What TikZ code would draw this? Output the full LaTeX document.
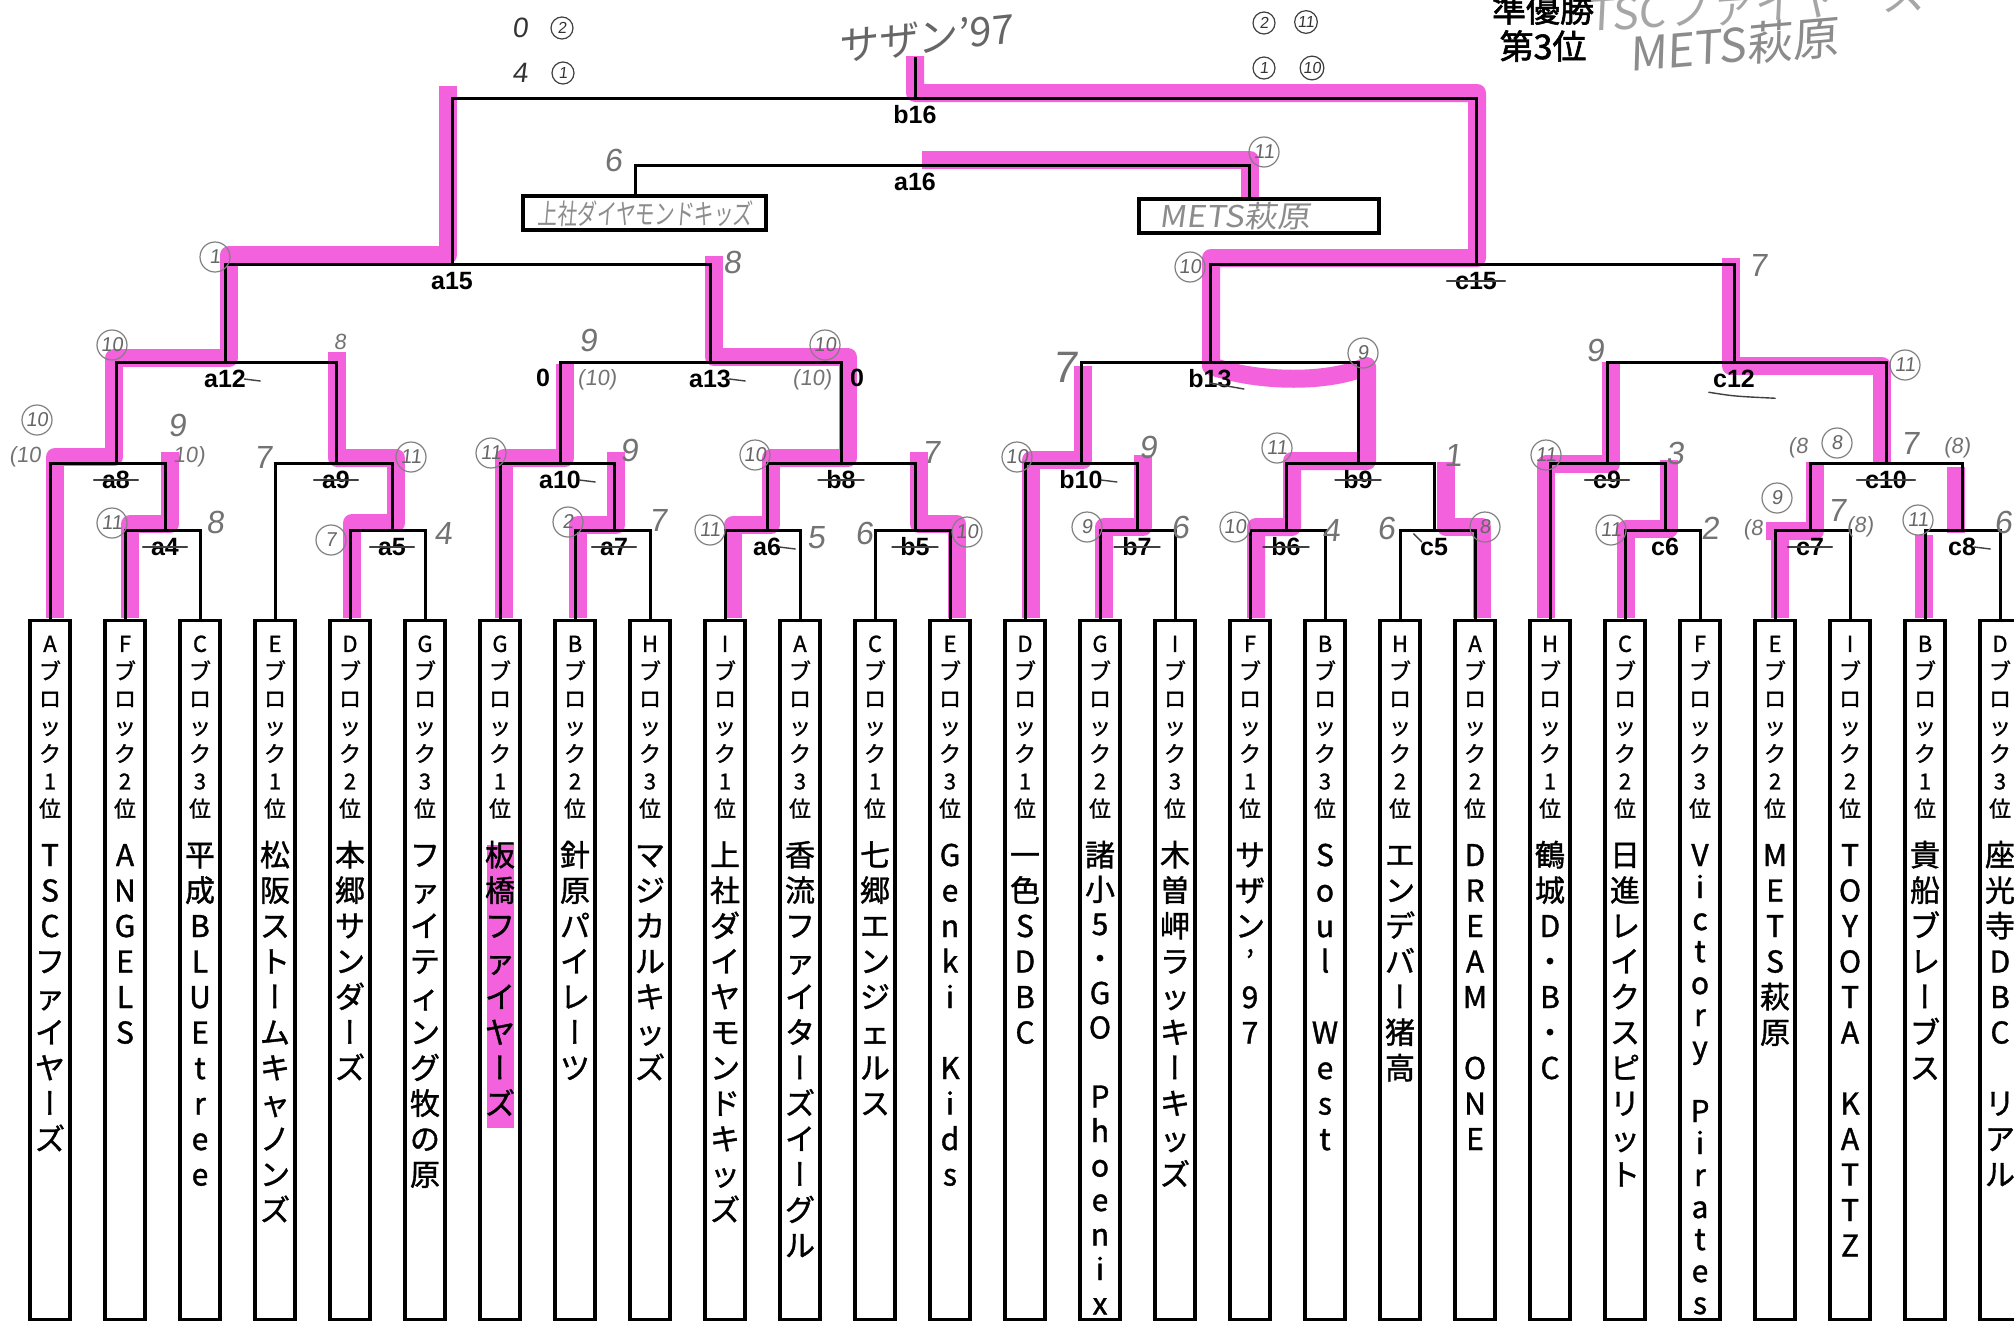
\documentclass[tikz,border=0pt]{standalone}
\usepackage{fontspec}
\usepackage{graphicx}
\setmainfont{Noto Sans CJK JP}
\newfontfamily\jpfont{Noto Sans CJK JP}[FakeBold=1.2]
\newfontfamily\jpbold{Noto Sans CJK JP}[FakeBold=1.8]
\newfontfamily\vertfont{Noto Sans CJK JP}[RawFeature=+vert,FakeBold=1.2]
\newfontfamily\labfont{Liberation Sans}
\newfontfamily\handfont{Liberation Sans}[FakeSlant=0.12]
\newfontfamily\handjp{Noto Sans CJK JP}[FakeSlant=0.12]
\definecolor{hl}{RGB}{243,98,220}

\newcommand\vrows[2]{\vbox{\hsize=20pt\baselineskip=#1\lineskiplimit=-1000pt\lineskip=0pt\hbox{}\vrowsA#2\relax}}
\def\vrowsA#1{\ifx\relax#1\else\vrowB{#1}\expandafter\vrowsA\fi}
\def\vrowB#1{\hbox to\hsize{\hss\ifx ー#1{\vertfont ー}\else#1\fi\hss}}

\newcommand\team[5]{%
  \node[tbox] (t#1) at (#2,619) {};
  \node[blk] (k#1) at (#2,624) {\vrows{13.75pt}{#3}};
  \node[tnm] (n#1) at (#2,{865.6-2*#5}) {\vrows{#5pt}{#4}};}

\tikzset{
  br/.style={line width=1.5pt, line cap=rect},
  pk/.style={draw=hl, line width=9pt, line join=round},
  tbox/.style={draw, line width=1.6pt, minimum width=20pt, minimum height=349.5pt, anchor=north, inner sep=0pt},
  blk/.style={anchor=north, inner sep=0pt, font=\jpfont\fontsize{11}{11}\selectfont},
  tnm/.style={anchor=north, inner sep=0pt, font=\jpfont\fontsize{15}{15}\selectfont},
  sbox/.style={draw, line width=1.8pt, minimum height=17pt, inner sep=0pt},
  lab/.style={font=\labfont\bfseries\fontsize{12.5}{12.5}\selectfont, inner sep=0pt},
  strk/.style={draw=black!75, line width=0.7pt, line cap=round},
  hp/.style={font=\handfont\fontsize{16}{16}\selectfont, text=black!55, inner sep=0pt},
  hs/.style={font=\handfont\fontsize{11}{11}\selectfont, text=black!55, inner sep=0pt},
  hc/.style={circle, draw=black!50, line width=0.6pt, font=\handfont\fontsize{10}{10}\selectfont, text=black!60, inner sep=0.5pt, minimum size=15pt},
  hpd/.style={hp, text=black!80, font=\handfont\fontsize{14}{14}\selectfont},
  hcd/.style={hc, draw=black!75, text=black!80, minimum size=11pt, font=\handfont\fontsize{8}{8}\selectfont},
  jb/.style={font=\jpbold\fontsize{17}{17}\selectfont, inner sep=0pt},
  hj/.style={font=\handjp\fontsize{20}{20}\selectfont, text=black!45, inner sep=0pt},
}

\begin{document}
\begin{tikzpicture}[x=0.5pt,y=-0.5pt]
\fill[white] (0,0) rectangle (2014,1328);
\useasboundingbox (0,0) rectangle (2014,1328);

% ---------- highlighter marks ----------
\draw[pk] (448,86) -- (448,255) -- (229,255) -- (229,358) -- (114,358) -- (114,457) -- (55,457) -- (55,618);
\draw[pk] (170,452) -- (170,524) -- (130,524) -- (130,618);
\draw[pk] (337,352) -- (337,458) -- (396,458) -- (396,523) -- (352,523) -- (352,618);
\draw[pk] (714,256) -- (714,357) -- (848,357) -- (848,458) -- (771,458) -- (771,525) -- (733,525) -- (733,618);
\draw[pk] (565,364) -- (565,458) -- (504,458) -- (504,618);
\draw[pk] (616,452) -- (616,525) -- (578,525) -- (578,618);
\draw[pk] (919,452) -- (919,524) -- (957,524) -- (957,618);
\draw[pk] (915,56) -- (915,93) -- (1477,93) -- (1477,258) -- (1211,258) -- (1211,366)
  .. controls (1260,383) and (1330,383) .. (1367,366) -- (1367,461) -- (1292,461) -- (1292,527) -- (1256,527) -- (1256,618);
\draw[pk] (922,160) -- (1250,160) -- (1250,198);
\draw[pk] (1083,366) -- (1083,460) -- (1031,460) -- (1031,618);
\draw[pk] (1143,455) -- (1143,527) -- (1104,527) -- (1104,618);
\draw[pk] (1446,462) -- (1446,527) -- (1482,527) -- (1482,618);
\draw[pk] (1731,258) -- (1731,366) -- (1882,366) -- (1882,464);
\draw[pk] (1611,362) -- (1611,464) -- (1546,464) -- (1546,618);
\draw[pk] (1669,460) -- (1669,529) -- (1626,529) -- (1626,618);
\draw[pk] (1815,462) -- (1815,531) -- (1766,531);
\draw[pk] (1780,531) -- (1780,618);
\draw[pk] (1956,467) -- (1956,533);
\draw[pk] (1924,535) -- (1924,618);
\fill[hl] (487,845) rectangle (514,1128);

% ---------- teams ----------
\team{0}{50}{Aブロック1位}{TSCファイヤーズ}{17.75}
\team{1}{125}{Fブロック2位}{ANGELS}{17.75}
\team{2}{200}{Cブロック3位}{平成BLUEtree}{17.75}
\team{3}{275}{Eブロック1位}{松阪ストームキャノンズ}{17.75}
\team{4}{350}{Dブロック2位}{本郷サンダーズ}{17.75}
\team{5}{425}{Gブロック3位}{ファイティング牧の原}{17.75}
\team{6}{500}{Gブロック1位}{板橋ファイヤーズ}{17.75}
\team{7}{575}{Bブロック2位}{針原パイレーツ}{17.75}
\team{8}{650}{Hブロック3位}{マジカルキッズ}{17.75}
\team{9}{725}{Iブロック1位}{上社ダイヤモンドキッズ}{17.75}
\team{10}{800}{Aブロック3位}{香流ファイターズイーグル}{17.75}
\team{11}{875}{Cブロック1位}{七郷エンジェルス}{17.75}
\team{12}{950}{Eブロック3位}{Genki~Kids}{17.75}
\team{13}{1025}{Dブロック1位}{一色SDBC}{17.75}
\team{14}{1100}{Gブロック2位}{諸小5・GO~Phoenix}{17.25}
\team{15}{1175}{Iブロック3位}{木曽岬ラッキーキッズ}{17.75}
\team{16}{1250}{Fブロック1位}{サザン’97}{17.75}
\team{17}{1325}{Bブロック3位}{Soul~West}{17.75}
\team{18}{1400}{Hブロック2位}{エンデバー猪高}{17.75}
\team{19}{1475}{Aブロック2位}{DREAM~ONE}{17.75}
\team{20}{1550}{Hブロック1位}{鶴城D・B・C}{17.75}
\team{21}{1625}{Cブロック2位}{日進レイクスピリット}{17.75}
\team{22}{1700}{Fブロック3位}{Victory~Pirates}{16}
\team{23}{1775}{Eブロック2位}{METS萩原}{17.75}
\team{24}{1850}{Iブロック2位}{TOYOTA~KATTZ}{17.75}
\team{25}{1925}{Bブロック1位}{貴船ブレーブス}{17.75}
\team{26}{2000}{Dブロック3位}{座光寺DBC~リアル}{17.75}

% ---------- 3rd place boxes ----------
\node[sbox, minimum width=121.5pt] (s1) at (644.5,213) {};
\node[sbox, minimum width=120pt] (s2) at (1259,216) {};
\node[hj, font=\handjp\fontsize{14}{14}\selectfont] (w4) at (645,214) {\scalebox{0.7}[1]{上社ダイヤモンドキッズ}};
\node[hj, font=\handjp\fontsize{15}{15}\selectfont] (w5) at (1235,216) {\scalebox{1.1}[1]{METS萩原}};

% ---------- match points ----------
\coordinate (m-a4) at (165,530);
\coordinate (m-a8) at (116,463);
\coordinate (m-a5) at (392,530);
\coordinate (m-a9) at (336,463);
\coordinate (m-a12) at (225,362);
\coordinate (m-a7) at (614,530);
\coordinate (m-a10) at (560,463);
\coordinate (m-a6) at (767,530);
\coordinate (m-b5) at (915,530);
\coordinate (m-b8) at (841,463);
\coordinate (m-a13) at (710,362);
\coordinate (m-a15) at (452,264);
\coordinate (m-b7) at (1137,530);
\coordinate (m-b10) at (1081,463);
\coordinate (m-b6) at (1286,530);
\coordinate (m-c5) at (1434,530);
\coordinate (m-b9) at (1358,463);
\coordinate (m-b13) at (1210,362);
\coordinate (m-c6) at (1665,530);
\coordinate (m-c9) at (1607,463);
\coordinate (m-c7) at (1810,530);
\coordinate (m-c8) at (1962,530);
\coordinate (m-c10) at (1886,463);
\coordinate (m-c12) at (1734,362);
\coordinate (m-c15) at (1476,264);
\coordinate (m-b16) at (915,98);
\coordinate (m-a16) at (915,165);
\coordinate (stub) at (915,58);

% ---------- bracket ----------
\draw[br] (t1.north) |- (m-a4) -| (t2.north);
\draw[br] (t0.north) |- (m-a8) -| (m-a4);
\draw[br] (t4.north) |- (m-a5) -| (t5.north);
\draw[br] (t3.north) |- (m-a9) -| (m-a5);
\draw[br] (m-a8) |- (m-a12) -| (m-a9);
\draw[br] (t7.north) |- (m-a7) -| (t8.north);
\draw[br] (t6.north) |- (m-a10) -| (m-a7);
\draw[br] (t9.north) |- (m-a6) -| (t10.north);
\draw[br] (t11.north) |- (m-b5) -| (t12.north);
\draw[br] (m-a6) |- (m-b8) -| (m-b5);
\draw[br] (m-a10) |- (m-a13) -| (m-b8);
\draw[br] (m-a12) |- (m-a15) -| (m-a13);
\draw[br] (t14.north) |- (m-b7) -| (t15.north);
\draw[br] (t13.north) |- (m-b10) -| (m-b7);
\draw[br] (t16.north) |- (m-b6) -| (t17.north);
\draw[br] (t18.north) |- (m-c5) -| (t19.north);
\draw[br] (m-b6) |- (m-b9) -| (m-c5);
\draw[br] (m-b10) |- (m-b13) -| (m-b9);
\draw[br] (t21.north) |- (m-c6) -| (t22.north);
\draw[br] (t20.north) |- (m-c9) -| (m-c6);
\draw[br] (t23.north) |- (m-c7) -| (t24.north);
\draw[br] (t25.north) |- (m-c8) -| (t26.north);
\draw[br] (m-c7) |- (m-c10) -| (m-c8);
\draw[br] (m-c9) |- (m-c12) -| (m-c10);
\draw[br] (m-b13) |- (m-c15) -| (m-c12);
\draw[br] (m-a15) |- (m-b16) -| (m-c15);
\draw[br] (m-b16) -- (stub);
\draw[br] ([xshift=-4.5pt]s1.north) |- (m-a16) -| ([xshift=-5pt]s2.north);

% ---------- match labels ----------
\foreach \m in {a4,a5,a6,a7,a8,a9,a10,a12,a13,a15,a16,b5,b6,b7,b8,b9,b10,b13,b16,c5,c6,c7,c8,c9,c10,c12,c15}
  \node[lab] (l-\m) at ([yshift=-8.5pt]m-\m) {\m};
\foreach \m in {a8,a4,a9,a5,a7,b8,b5,b7,b6,b9,c9,c10,c7,c15}
  \draw[strk] ([xshift=-4pt]l-\m.west) -- ([xshift=4pt]l-\m.east);
\foreach \m in {a12,a10,a13,a6,b10,c8}
  \draw[strk] ([xshift=-1pt]l-\m.east) -- ([xshift=7pt,yshift=-1pt]l-\m.east);
\draw[strk] ([yshift=-2pt]l-b13.center) -- ([xshift=6pt,yshift=-5pt]l-b13.east);
\draw[strk] ([xshift=-2pt,yshift=-2pt]l-c12.south west) .. controls ([yshift=-4pt]l-c12.south) .. ([xshift=10pt,yshift=-5pt]l-c12.south east);
\draw[strk] ([xshift=-3pt,yshift=2pt]l-c5.north west) -- ([xshift=1pt,yshift=-2pt]l-c5.north west);
\node[lab] (z1) at (543,378) {0};
\node[lab] (z2) at (857,378) {0};

% ---------- titles ----------
\node[jb] (r1) at (1543,9) {準優勝};
\node[jb] (r2) at (1543,46) {第3位};
\node[hj, text=black!35, rotate=4, font=\handjp\fontsize{22}{22}\selectfont] (w1) at (1756,3) {TSCファイヤーズ};
\node[hj, rotate=5, font=\handjp\fontsize{23}{23}\selectfont] (w2) at (1733,45) {METS萩原};
\node[hj, text=black!60, rotate=6, font=\handjp\fontsize{20}{20}\selectfont] (w3) at (925,38) {サザン’97};

% ---------- handwritten scores ----------
\node[hpd] (h1) at (520,28) {0};
\node[hcd] (h2) at (562,28) {2};
\node[hpd] (h3) at (520,73) {4};
\node[hcd] (h4) at (563,73) {1};
\node[hcd] (h5) at (1264,23) {2};
\node[hcd] (h6) at (1306,22) {11};
\node[hcd] (h7) at (1264,68) {1};
\node[hcd] (h8) at (1312,68) {10};
\node[hp] (h9) at (613,160) {6};
\node[hc] (h10) at (1264,152) {11};
\node[hc] (h11) at (215,257) {1};
\node[hp] (h12) at (732,262) {8};
\node[hc] (h13) at (112,345) {10};
\node[hs] (h14) at (340,342) {8};
\node[hc] (h15) at (37,420) {10};
\node[hs] (h16) at (25,457) {(10};
\node[hp] (h17) at (177,425) {9};
\node[hs] (h18) at (189,457) {10)};
\node[hc] (h19) at (112,523) {11};
\node[hp] (h20) at (215,522) {8};
\node[hp] (h21) at (263,457) {7};
\node[hc] (h22) at (411,457) {11};
\node[hc] (h23) at (331,540) {7};
\node[hp] (h24) at (443,533) {4};
\node[hc] (h25) at (491,453) {11};
\node[hp] (h26) at (629,450) {9};
\node[hc] (h27) at (568,522) {2};
\node[hp] (h28) at (658,520) {7};
\node[hp] (h29) at (588,340) {9};
\node[hs] (h30) at (597,380) {(10)};
\node[hc] (h31) at (825,345) {10};
\node[hs] (h32) at (812,380) {(10)};
\node[hc] (h33) at (755,455) {10};
\node[hp] (h34) at (931,452) {7};
\node[hc] (h35) at (710,530) {11};
\node[hp] (h36) at (816,538) {5};
\node[hp] (h37) at (864,533) {6};
\node[hc] (h38) at (967,532) {10};
\node[hc] (h39) at (1190,267) {10};
\node[hp] (h40) at (1758,265) {7};
\node[hp, font=\handfont\fontsize{22}{22}\selectfont] (h41) at (1065,367) {7};
\node[hc] (h42) at (1363,353) {9};
\node[hc] (h43) at (1017,457) {10};
\node[hp] (h44) at (1148,447) {9};
\node[hc] (h45) at (1087,527) {9};
\node[hp] (h46) at (1180,527) {6};
\node[hc] (h47) at (1277,448) {11};
\node[hp] (h48) at (1453,455) {1};
\node[hc] (h49) at (1235,527) {10};
\node[hp] (h50) at (1331,530) {4};
\node[hp] (h51) at (1386,528) {6};
\node[hc] (h52) at (1485,527) {8};
\node[hp] (h53) at (1595,350) {9};
\node[hc] (h54) at (1905,365) {11};
\node[hc] (h55) at (1546,455) {11};
\node[hp] (h56) at (1675,453) {3};
\node[hc] (h57) at (1611,530) {11};
\node[hp] (h58) at (1710,528) {2};
\node[hs] (h59) at (1798,448) {(8};
\node[hc] (h60) at (1837,443) {8};
\node[hp] (h61) at (1910,443) {7};
\node[hs] (h62) at (1957,448) {(8)};
\node[hc] (h63) at (1777,498) {9};
\node[hs] (h64) at (1753,530) {(8};
\node[hp] (h65) at (1837,510) {7};
\node[hs] (h66) at (1860,527) {(8)};
\node[hc] (h67) at (1918,520) {11};
\node[hp] (h68) at (2003,522) {6};
\end{tikzpicture}
\end{document}
